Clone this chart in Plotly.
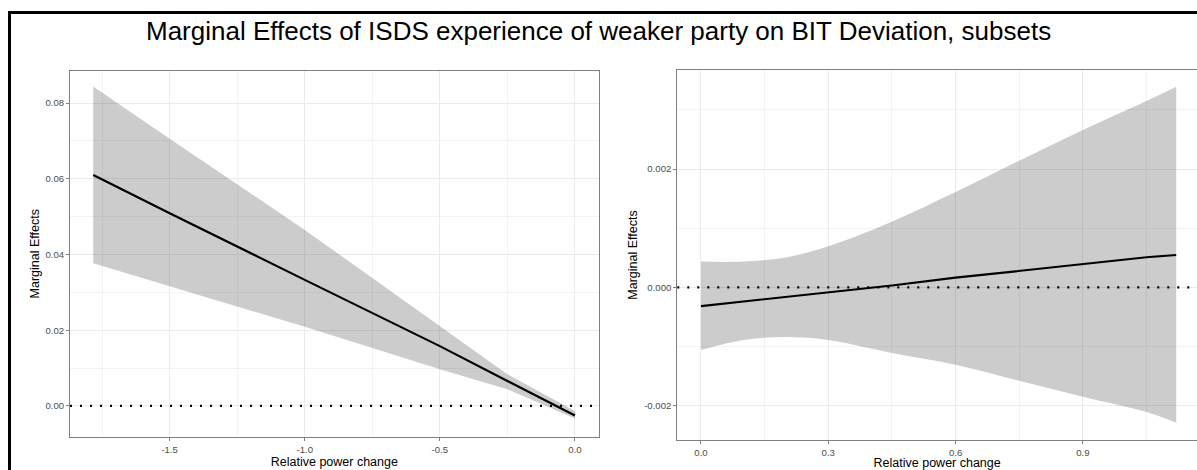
import plotly.graph_objects as go

# ---- data ----
title_text = "Marginal Effects of ISDS experience of weaker party on BIT Deviation, subsets"
x_title = "Relative power change"
y_title = "Marginal Effects"

# Left panel
left_x = [-1.783, -1.5, -1.0, -0.5, -0.25, 0.0]
left_effect = [0.0610, 0.0509, 0.0333, 0.0158, 0.0066, -0.0025]
left_upper = [0.0844, 0.0706, 0.0465, 0.0211, 0.0084, -0.0013]
left_lower = [0.0377, 0.0316, 0.0209, 0.0097, 0.0044, -0.0033]
left_xticks = [-1.5, -1.0, -0.5, 0.0]
left_xticklabels = ["-1.5", "-1.0", "-0.5", "0.0"]
left_xminor = [-1.75, -1.25, -0.75, -0.25]
left_yticks = [0.00, 0.02, 0.04, 0.06, 0.08]
left_yticklabels = ["0.00", "0.02", "0.04", "0.06", "0.08"]
left_yminor = [0.01, 0.03, 0.05, 0.07]

# Right panel
right_x = [0.0, 0.1, 0.2, 0.3, 0.45, 0.6, 0.75, 0.9, 1.05, 1.12]
right_effect = [-0.000317, -0.000240, -0.000163, -0.000087, 0.000030, 0.000162, 0.000277, 0.000393, 0.000508, 0.000546]
right_upper = [0.000434, 0.000436, 0.000505, 0.000695, 0.001110, 0.001610, 0.002140, 0.002660, 0.003150, 0.003390]
right_lower = [-0.001060, -0.000890, -0.000840, -0.000890, -0.001110, -0.001310, -0.001580, -0.001850, -0.002110, -0.002290]
right_xticks = [0.0, 0.3, 0.6, 0.9]
right_xticklabels = ["0.0", "0.3", "0.6", "0.9"]
right_xminor = [0.15, 0.45, 0.75, 1.05]
right_yticks = [-0.002, 0.000, 0.002]
right_yticklabels = ["-0.002", "0.000", "0.002"]
right_yminor = [-0.001, 0.001, 0.003]

W, H = 1197, 470
FONT = "Liberation Sans, Arial, Helvetica, sans-serif"
RIBBON = "rgba(0,0,0,0.2)"
GRID = "#EBEBEB"
MINOR = "#F3F3F3"
BORDER = "#7F7F7F"

fig = go.Figure()

def add_panel(xs, eff, up, lo, xa, ya, shape):
    fig.add_trace(go.Scatter(x=xs, y=up, mode="lines", line=dict(width=0, color=RIBBON, shape=shape),
                             xaxis=xa, yaxis=ya, showlegend=False, hoverinfo="skip"))
    fig.add_trace(go.Scatter(x=xs, y=lo, mode="lines", line=dict(width=0, color=RIBBON, shape=shape),
                             fill="tonexty", fillcolor=RIBBON,
                             xaxis=xa, yaxis=ya, showlegend=False, hoverinfo="skip"))
    fig.add_trace(go.Scatter(x=xs, y=eff, mode="lines", line=dict(width=2.2, color="black"),
                             xaxis=xa, yaxis=ya, showlegend=False))

add_panel(left_x, left_effect, left_upper, left_lower, "x", "y", "linear")
add_panel(right_x, right_effect, right_upper, right_lower, "x2", "y2", "spline")

# zero reference lines (dotted)
fig.add_shape(type="line", xref="x domain", yref="y", x0=0, x1=1, y0=0, y1=0,
              line=dict(color="black", width=2.2, dash="2px,8px"))
fig.add_shape(type="line", xref="x2 domain", yref="y2", x0=0, x1=1, y0=0, y1=0,
              line=dict(color="black", width=2.2, dash="2px,8px"))

tickfont = dict(family=FONT, size=9.6, color="#4D4D4D")
titlefont = dict(family=FONT, size=12.5, color="black")

def xaxis(dom, rng, tv, tt, mv, anchor):
    return dict(domain=dom, range=rng, anchor=anchor, tickvals=tv, ticktext=tt,
                showgrid=True, gridcolor=GRID, gridwidth=1, zeroline=False,
                ticks="outside", ticklen=3, tickcolor=BORDER, tickwidth=1,
                showline=True, linecolor=BORDER, linewidth=1, mirror=True,
                tickfont=tickfont, title=dict(text=x_title, font=titlefont, standoff=3),
                minor=dict(tickvals=mv, showgrid=True, gridcolor=MINOR, gridwidth=1, ticks=""))

def yaxis(dom, rng, tv, tt, mv, anchor, mirror):
    return dict(domain=dom, range=rng, anchor=anchor, tickvals=tv, ticktext=tt,
                showgrid=True, gridcolor=GRID, gridwidth=1, zeroline=False,
                ticks="outside", ticklen=3, tickcolor=BORDER, tickwidth=1,
                showline=True, linecolor=BORDER, linewidth=1, mirror=mirror,
                tickfont=tickfont, title=dict(text=y_title, font=titlefont, standoff=3),
                minor=dict(tickvals=mv, showgrid=True, gridcolor=MINOR, gridwidth=1, ticks=""))

fig.update_layout(
    width=W, height=H,
    margin=dict(l=0, r=0, t=0, b=0),
    paper_bgcolor="white", plot_bgcolor="white",
    xaxis=xaxis([70 / W, 598.7 / W], [-1.869, 0.088], left_xticks, left_xticklabels, left_xminor, "y"),
    yaxis=yaxis([1 - 437 / H, 1 - 70.5 / H], [-0.0082, 0.0886], left_yticks, left_yticklabels, left_yminor, "x", True),
    xaxis2=xaxis([677.3 / W, 1.0], [-0.0558, 1.169], right_xticks, right_xticklabels, right_xminor, "y2"),
    yaxis2=yaxis([1 - 440 / H, 1 - 70 / H], [-0.002582, 0.003674], right_yticks, right_yticklabels, right_yminor, "x2", False),
    annotations=[dict(text=title_text, xref="paper", yref="paper", x=598 / W, y=1 - 31 / H,
                      xanchor="center", yanchor="middle", showarrow=False,
                      font=dict(family=FONT, size=26, color="black"))],
)

# outer black frame (left and top edges visible)
fig.add_shape(type="line", xref="paper", yref="paper", x0=9.5 / W, x1=9.5 / W, y0=0, y1=1 - 12.5 / H,
              line=dict(color="black", width=3), layer="above")
fig.add_shape(type="line", xref="paper", yref="paper", x0=8 / W, x1=1.0, y0=1 - 12.5 / H, y1=1 - 12.5 / H,
              line=dict(color="black", width=3), layer="above")

fig.write_html("out.html",
               config={"displayModeBar": False},
               post_script="document.body.style.margin='0';document.body.style.padding='0';"
                           "document.body.style.overflow='hidden';")
